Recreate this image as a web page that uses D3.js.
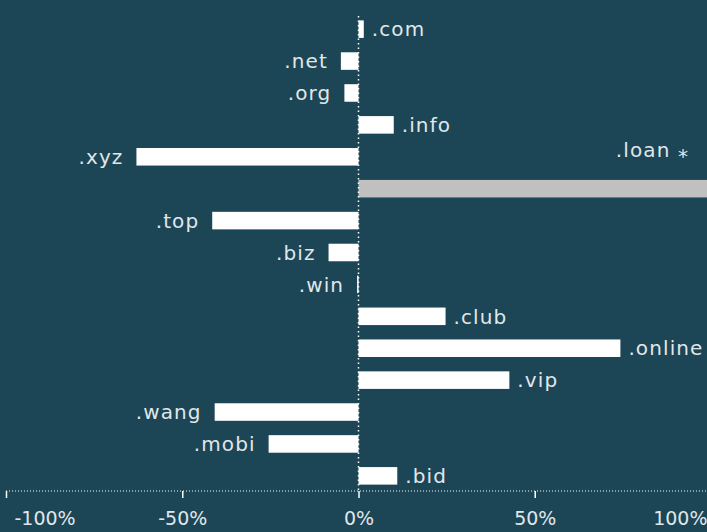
<!DOCTYPE html>
<html>
<head>
<meta charset="utf-8">
<script src="https://d3js.org/d3.v7.min.js"></script>
<style>
  body { margin: 0; background: #1c4555; }
  svg { display: block; }
  text { font-family: "DejaVu Sans", Verdana, sans-serif; fill: #e0e7eb; }
</style>
</head>
<body>
<script>
// change in registrations by TLD (%), .loan is off the scale
var tlds   = ['.com', '.net', '.org', '.info', '.xyz', '.loan', '.top', '.biz', '.win', '.club', '.online', '.vip', '.wang', '.mobi', '.bid'];
var change = [1.5, -5, -4, 10, -63, 250, -41.5, -8.5, -0.4, 24.7, 74.3, 42.8, -40.8, -25.5, 11];
var offScale = ['.loan'];
var ticks = [-100, -50, 0, 50, 100];

var width = 707, height = 532;
var margin = { top: 14, bottom: 41 };

var x = d3.scaleLinear().domain([-100, 100]).range([6, 711]);
var y = d3.scaleBand().domain(tlds).range([margin.top, height - margin.bottom]).paddingInner(0.45).paddingOuter(0.2);

var svg = d3.select('body').append('svg')
  .attr('width', width).attr('height', height);

var data = tlds.map(function(t, i) { return { tld: t, v: change[i] }; });

svg.append('defs').append('clipPath').attr('id', 'clip')
  .append('rect').attr('x', 0).attr('y', 0).attr('width', width).attr('height', height);

svg.append('g').attr('clip-path', 'url(#clip)')
  .selectAll('rect').data(data).enter().append('rect')
  .attr('x', function(d) { return x(Math.min(0, d.v)); })
  .attr('y', function(d) { return y(d.tld); })
  .attr('width', function(d) { return Math.max(1.5, Math.abs(x(d.v) - x(0))); })
  .attr('height', y.bandwidth())
  .attr('fill', function(d) { return offScale.indexOf(d.tld) >= 0 ? '#c0c0c0' : '#ffffff'; });

// labels
svg.append('g').selectAll('text').data(data).enter().append('text')
  .attr('x', function(d) {
    if (offScale.indexOf(d.tld) >= 0) return width - 18;
    return d.v >= 0 ? x(d.v) + 8 : x(d.v) - 13;
  })
  .attr('y', function(d) {
    if (offScale.indexOf(d.tld) >= 0) return y(d.tld) - 30;
    return y(d.tld) + y.bandwidth() / 2;
  })
  .attr('dy', '0.36em')
  .attr('text-anchor', function(d) {
    if (offScale.indexOf(d.tld) >= 0) return 'end';
    return d.v >= 0 ? 'start' : 'end';
  })
  .style('font-size', '20px')
  .style('letter-spacing', '1.1px')
  .text(function(d) { return offScale.indexOf(d.tld) >= 0 ? d.tld + ' \u204E' : d.tld; });

// zero line
svg.append('line')
  .attr('x1', x(0)).attr('x2', x(0))
  .attr('y1', margin.top + 2).attr('y2', height - margin.bottom)
  .attr('stroke', '#ffffff').attr('stroke-width', 1.5)
  .attr('stroke-dasharray', '1.5,3');

// x axis
var axis = d3.axisBottom(x).tickValues(ticks)
  .tickFormat(function(d) { return d + '%'; })
  .tickSize(7).tickPadding(14);

var gx = svg.append('g')
  .attr('transform', 'translate(0,' + (height - margin.bottom) + ')')
  .call(axis);
gx.select('.domain').attr('stroke', '#ffffff').attr('stroke-dasharray', '1,2')
  .attr('d', 'M' + x(-100) + ',0H' + width);
gx.selectAll('.tick line').attr('stroke', '#ffffff').attr('stroke-width', 1.5);
gx.selectAll('.tick text').style('font-size', '19px').attr('fill', '#e0e7eb')
  .attr('text-anchor', function(d) { return d === 100 ? 'end' : (d === -100 ? 'start' : 'middle'); })
  .attr('dx', function(d) { return d === 100 ? '-4' : (d === -100 ? '8' : '0'); });
</script>
</body>
</html>
